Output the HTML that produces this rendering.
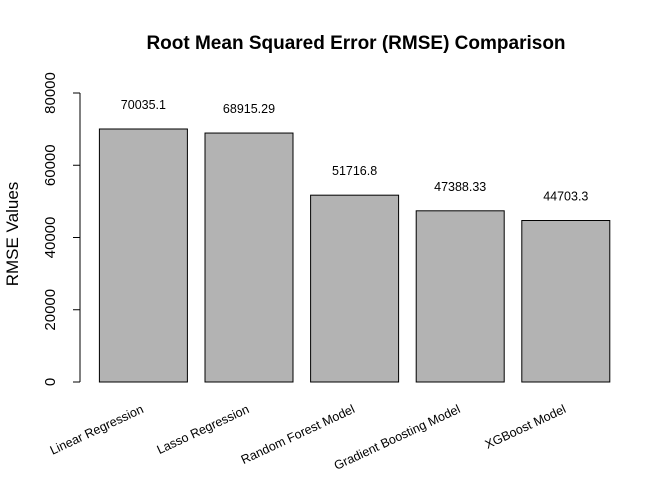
<!DOCTYPE html>
<html><head><meta charset="utf-8"><style>
body{margin:0;background:#fff;}
svg text{font-family:"Liberation Sans",Arial,sans-serif;}
</style></head><body>
<svg id="chart" width="672" height="480" viewBox="0 0 672 480">
<text x="356" y="49" text-anchor="middle" font-size="19" font-weight="bold">Root Mean Squared Error (RMSE) Comparison</text>
<text transform="translate(18,234) rotate(-90)" text-anchor="middle" font-size="17">RMSE Values</text>
<g id="yaxis"></g>
<g id="bars"></g>
</svg>
<script>
const categories=["Linear Regression","Lasso Regression","Random Forest Model","Gradient Boosting Model","XGBoost Model"];
const values=[70035.1,68915.29,51716.8,47388.33,44703.3];
const valueLabels=["70035.1","68915.29","51716.8","47388.33","44703.3"];
const yTicks=[0,20000,40000,60000,80000];
const NS="http://www.w3.org/2000/svg";
const y0=382, yTop=93, yMax=80000;
function yScale(v){return y0-(v/yMax)*(y0-yTop);}
const barW=88, gap=17.6, xStart=99.4;
function xLeft(i){return xStart+i*(barW+gap);}
function mk(tag,attrs,parent){const e=document.createElementNS(NS,tag);for(const k in attrs)e.setAttribute(k,attrs[k]);parent.appendChild(e);return e;}
const ya=document.getElementById('yaxis');
const axLine=mk('line',{x1:80,x2:80,y1:yScale(0),y2:yScale(80000),stroke:'#000'},ya);


yTicks.forEach(t=>{
  const y=yScale(t);
  const tk=mk('line',{x1:73,x2:80,y1:y,y2:y,stroke:'#000'},ya);
  
  
  const tx=mk('text',{transform:`translate(55,${y}) rotate(-90)`,'text-anchor':'middle','font-size':15},ya);
  tx.textContent=t;
  
  
});
const bg=document.getElementById('bars');
values.forEach((v,i)=>{
  const x=xLeft(i), cx=x+barW/2;
  const r=mk('rect',{x:x,y:yScale(v),width:barW,height:yScale(0)-yScale(v),fill:'#b3b3b3',stroke:'#000','stroke-width':1},bg);
  
  
  const l=mk('text',{x:cx,y:yScale(v)-20,'text-anchor':'middle','font-size':12.5},bg);
  l.textContent=valueLabels[i];
  
  
  const c=mk('text',{transform:`translate(${cx+1},412) rotate(-25)`,'text-anchor':'end','font-size':12.5},bg);
  c.textContent=categories[i];
  
  
});
</script>
</body></html>
